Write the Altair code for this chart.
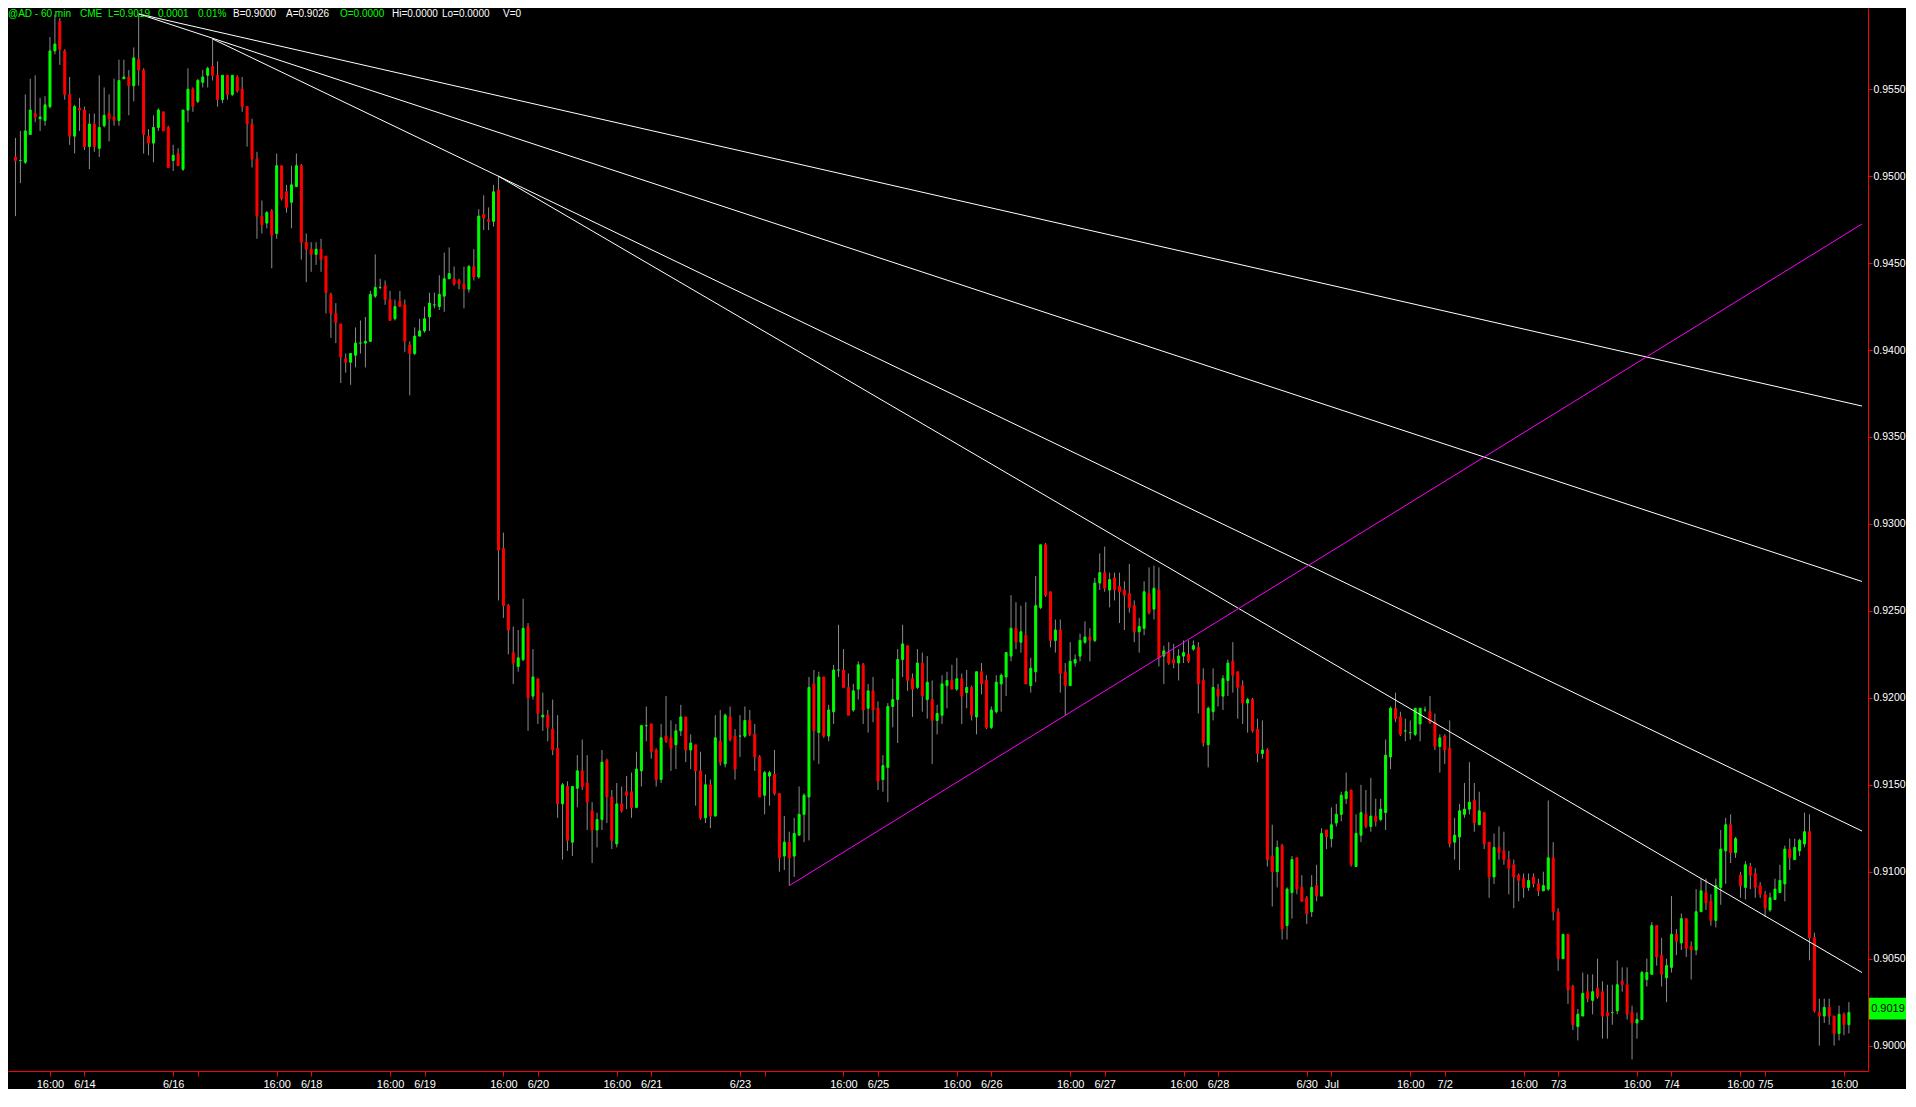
import altair as alt
import pandas as pd

W = 1860
H = 1063

bar_index = list(range(373))

open_price = [
 0.9511, 0.9509, 0.9508, 0.9524, 0.9536, 0.9533, 0.9532, 0.9540, 0.9572, 0.9589,
 0.9572, 0.9547, 0.9523, 0.9539, 0.9538, 0.9517, 0.9530, 0.9516, 0.9529, 0.9536,
 0.9534, 0.9532, 0.9556, 0.9557, 0.9552, 0.9567, 0.9561, 0.9523, 0.9519, 0.9528,
 0.9537, 0.9528, 0.9509, 0.9513, 0.9504, 0.9538, 0.9550, 0.9543, 0.9554, 0.9558,
 0.9563, 0.9558, 0.9544, 0.9558, 0.9547, 0.9557, 0.9550, 0.9540, 0.9530, 0.9510,
 0.9477, 0.9473, 0.9480, 0.9467, 0.9506, 0.9491, 0.9485, 0.9494, 0.9506, 0.9462,
 0.9458, 0.9455, 0.9458, 0.9454, 0.9432, 0.9421, 0.9415, 0.9395, 0.9393, 0.9397,
 0.9404, 0.9404, 0.9405, 0.9431, 0.9436, 0.9437, 0.9429, 0.9418, 0.9428, 0.9426,
 0.9403, 0.9398, 0.9408, 0.9411, 0.9419, 0.9426, 0.9425, 0.9431, 0.9441, 0.9441,
 0.9440, 0.9438, 0.9435, 0.9448, 0.9442, 0.9478, 0.9475, 0.9474, 0.9492, 0.9286,
 0.9253, 0.9226, 0.9218, 0.9222, 0.9241, 0.9201, 0.9211, 0.9189, 0.9190, 0.9182,
 0.9171, 0.9139, 0.9149, 0.9117, 0.9148, 0.9158, 0.9151, 0.9135, 0.9124, 0.9130,
 0.9164, 0.9143, 0.9116, 0.9139, 0.9146, 0.9146, 0.9137, 0.9158, 0.9184, 0.9185,
 0.9170, 0.9153, 0.9178, 0.9177, 0.9173, 0.9181, 0.9189, 0.9170, 0.9173, 0.9158,
 0.9131, 0.9150, 0.9132, 0.9175, 0.9162, 0.9189, 0.9178, 0.9178, 0.9178, 0.9187,
 0.9179, 0.9166, 0.9144, 0.9155, 0.9156, 0.9145, 0.9109, 0.9117, 0.9109, 0.9121,
 0.9133, 0.9143, 0.9208, 0.9180, 0.9212, 0.9178, 0.9192, 0.9216, 0.9216, 0.9206,
 0.9193, 0.9205, 0.9219, 0.9194, 0.9204, 0.9194, 0.9153, 0.9160, 0.9195, 0.9199,
 0.9222, 0.9230, 0.9211, 0.9206, 0.9220, 0.9199, 0.9199, 0.9187, 0.9190, 0.9207,
 0.9210, 0.9205, 0.9211, 0.9203, 0.9206, 0.9189, 0.9215, 0.9210, 0.9183, 0.9192,
 0.9208, 0.9212, 0.9224, 0.9240, 0.9232, 0.9236, 0.9207, 0.9215, 0.9252, 0.9288,
 0.9261, 0.9233, 0.9239, 0.9215, 0.9207, 0.9220, 0.9224, 0.9232, 0.9235, 0.9233,
 0.9266, 0.9272, 0.9262, 0.9269, 0.9264, 0.9262, 0.9260, 0.9253, 0.9238, 0.9240,
 0.9260, 0.9251, 0.9262, 0.9224, 0.9226, 0.9222, 0.9220, 0.9224, 0.9225, 0.9228,
 0.9229, 0.9210, 0.9173, 0.9192, 0.9205, 0.9201, 0.9210, 0.9221, 0.9215, 0.9207,
 0.9197, 0.9199, 0.9182, 0.9168, 0.9170, 0.9109, 0.9100, 0.9115, 0.9069, 0.9088,
 0.9108, 0.9091, 0.9085, 0.9077, 0.9092, 0.9086, 0.9124, 0.9119, 0.9128, 0.9133,
 0.9142, 0.9147, 0.9103, 0.9121, 0.9133, 0.9126, 0.9132, 0.9130, 0.9134, 0.9166,
 0.9194, 0.9189, 0.9181, 0.9180, 0.9179, 0.9185, 0.9193, 0.9192, 0.9186, 0.9172,
 0.9178, 0.9171, 0.9117, 0.9120, 0.9133, 0.9136, 0.9141, 0.9127, 0.9134, 0.9117,
 0.9097, 0.9114, 0.9112, 0.9107, 0.9104, 0.9098, 0.9096, 0.9091, 0.9097, 0.9093,
 0.9089, 0.9090, 0.9108, 0.9077, 0.9050, 0.9064, 0.9034, 0.9011, 0.9017, 0.9031,
 0.9026, 0.9033, 0.9031, 0.9019, 0.9019, 0.9020, 0.9037, 0.9035, 0.9019, 0.9013,
 0.9015, 0.9038, 0.9041, 0.9069, 0.9052, 0.9039, 0.9045, 0.9064, 0.9059, 0.9073,
 0.9057, 0.9055, 0.9077, 0.9088, 0.9083, 0.9072, 0.9091, 0.9112, 0.9127, 0.9111,
 0.9098, 0.9091, 0.9103, 0.9099, 0.9092, 0.9087, 0.9078, 0.9084, 0.9088, 0.9093,
 0.9113, 0.9107, 0.9112, 0.9116, 0.9123, 0.9062, 0.9019, 0.9017, 0.9022, 0.9017,
 0.9007, 0.9018, 0.9012]

high_price = [
 0.9522, 0.9526, 0.9547, 0.9556, 0.9558, 0.9545, 0.9546, 0.9580, 0.9593, 0.9591,
 0.9573, 0.9557, 0.9541, 0.9545, 0.9540, 0.9536, 0.9536, 0.9558, 0.9551, 0.9547,
 0.9556, 0.9567, 0.9567, 0.9561, 0.9574, 0.9593, 0.9562, 0.9527, 0.9535, 0.9539,
 0.9537, 0.9529, 0.9518, 0.9516, 0.9538, 0.9562, 0.9551, 0.9556, 0.9561, 0.9563,
 0.9579, 0.9566, 0.9558, 0.9558, 0.9558, 0.9558, 0.9557, 0.9540, 0.9533, 0.9514,
 0.9486, 0.9480, 0.9481, 0.9513, 0.9506, 0.9495, 0.9506, 0.9513, 0.9507, 0.9467,
 0.9462, 0.9462, 0.9464, 0.9454, 0.9433, 0.9427, 0.9415, 0.9398, 0.9398, 0.9413,
 0.9417, 0.9419, 0.9434, 0.9455, 0.9441, 0.9440, 0.9434, 0.9429, 0.9434, 0.9429,
 0.9405, 0.9413, 0.9418, 0.9425, 0.9433, 0.9433, 0.9443, 0.9456, 0.9459, 0.9448,
 0.9441, 0.9448, 0.9449, 0.9458, 0.9481, 0.9489, 0.9482, 0.9495, 0.9500, 0.9295,
 0.9254, 0.9241, 0.9239, 0.9257, 0.9243, 0.9228, 0.9211, 0.9203, 0.9193, 0.9199,
 0.9190, 0.9151, 0.9152, 0.9149, 0.9167, 0.9176, 0.9167, 0.9140, 0.9134, 0.9170,
 0.9165, 0.9147, 0.9151, 0.9149, 0.9155, 0.9157, 0.9169, 0.9184, 0.9195, 0.9185,
 0.9171, 0.9185, 0.9201, 0.9187, 0.9185, 0.9196, 0.9189, 0.9179, 0.9173, 0.9169,
 0.9156, 0.9153, 0.9190, 0.9193, 0.9191, 0.9195, 0.9182, 0.9190, 0.9195, 0.9193,
 0.9185, 0.9167, 0.9158, 0.9158, 0.9170, 0.9145, 0.9132, 0.9123, 0.9131, 0.9149,
 0.9145, 0.9212, 0.9216, 0.9215, 0.9212, 0.9196, 0.9219, 0.9242, 0.9228, 0.9214,
 0.9208, 0.9221, 0.9220, 0.9208, 0.9212, 0.9198, 0.9167, 0.9197, 0.9211, 0.9228,
 0.9242, 0.9230, 0.9214, 0.9228, 0.9226, 0.9224, 0.9210, 0.9196, 0.9213, 0.9215,
 0.9219, 0.9223, 0.9214, 0.9216, 0.9207, 0.9215, 0.9220, 0.9213, 0.9195, 0.9213,
 0.9214, 0.9226, 0.9259, 0.9255, 0.9253, 0.9255, 0.9223, 0.9270, 0.9288, 0.9289,
 0.9261, 0.9245, 0.9245, 0.9220, 0.9232, 0.9225, 0.9237, 0.9244, 0.9240, 0.9269,
 0.9283, 0.9287, 0.9272, 0.9272, 0.9272, 0.9267, 0.9277, 0.9256, 0.9246, 0.9267,
 0.9275, 0.9276, 0.9275, 0.9230, 0.9232, 0.9231, 0.9228, 0.9233, 0.9233, 0.9233,
 0.9232, 0.9217, 0.9195, 0.9217, 0.9208, 0.9213, 0.9222, 0.9232, 0.9215, 0.9210,
 0.9200, 0.9200, 0.9188, 0.9187, 0.9171, 0.9127, 0.9118, 0.9116, 0.9091, 0.9109,
 0.9108, 0.9098, 0.9086, 0.9098, 0.9104, 0.9125, 0.9124, 0.9137, 0.9139, 0.9146,
 0.9157, 0.9147, 0.9133, 0.9150, 0.9147, 0.9154, 0.9142, 0.9142, 0.9176, 0.9195,
 0.9203, 0.9192, 0.9188, 0.9187, 0.9194, 0.9194, 0.9195, 0.9201, 0.9191, 0.9179,
 0.9179, 0.9187, 0.9131, 0.9139, 0.9151, 0.9163, 0.9151, 0.9146, 0.9134, 0.9117,
 0.9122, 0.9126, 0.9123, 0.9112, 0.9107, 0.9099, 0.9099, 0.9099, 0.9099, 0.9096,
 0.9100, 0.9141, 0.9117, 0.9079, 0.9064, 0.9064, 0.9035, 0.9021, 0.9042, 0.9041,
 0.9041, 0.9050, 0.9037, 0.9035, 0.9035, 0.9049, 0.9045, 0.9045, 0.9023, 0.9019,
 0.9043, 0.9050, 0.9071, 0.9069, 0.9062, 0.9050, 0.9086, 0.9067, 0.9076, 0.9073,
 0.9060, 0.9090, 0.9096, 0.9096, 0.9087, 0.9096, 0.9124, 0.9131, 0.9133, 0.9120,
 0.9100, 0.9106, 0.9105, 0.9102, 0.9094, 0.9089, 0.9088, 0.9096, 0.9104, 0.9115,
 0.9119, 0.9119, 0.9119, 0.9134, 0.9133, 0.9065, 0.9027, 0.9027, 0.9027, 0.9017,
 0.9023, 0.9019, 0.9025]

low_price = [
 0.9477, 0.9496, 0.9507, 0.9524, 0.9531, 0.9526, 0.9529, 0.9539, 0.9570, 0.9564,
 0.9544, 0.9518, 0.9513, 0.9526, 0.9515, 0.9504, 0.9514, 0.9511, 0.9528, 0.9520,
 0.9529, 0.9529, 0.9556, 0.9535, 0.9543, 0.9552, 0.9513, 0.9512, 0.9508, 0.9526,
 0.9526, 0.9505, 0.9503, 0.9506, 0.9503, 0.9531, 0.9537, 0.9542, 0.9551, 0.9551,
 0.9555, 0.9540, 0.9542, 0.9544, 0.9546, 0.9548, 0.9537, 0.9517, 0.9505, 0.9464,
 0.9467, 0.9470, 0.9447, 0.9464, 0.9486, 0.9479, 0.9470, 0.9494, 0.9452, 0.9439,
 0.9445, 0.9449, 0.9445, 0.9421, 0.9407, 0.9404, 0.9381, 0.9387, 0.9380, 0.9390,
 0.9398, 0.9390, 0.9405, 0.9430, 0.9435, 0.9426, 0.9417, 0.9417, 0.9425, 0.9399,
 0.9374, 0.9397, 0.9408, 0.9410, 0.9411, 0.9424, 0.9423, 0.9422, 0.9441, 0.9437,
 0.9435, 0.9424, 0.9433, 0.9440, 0.9441, 0.9469, 0.9469, 0.9471, 0.9256, 0.9246,
 0.9225, 0.9208, 0.9215, 0.9221, 0.9181, 0.9199, 0.9185, 0.9181, 0.9175, 0.9167,
 0.9131, 0.9107, 0.9112, 0.9109, 0.9137, 0.9147, 0.9124, 0.9105, 0.9114, 0.9124,
 0.9128, 0.9113, 0.9114, 0.9134, 0.9136, 0.9131, 0.9137, 0.9149, 0.9175, 0.9165,
 0.9149, 0.9151, 0.9174, 0.9158, 0.9159, 0.9178, 0.9163, 0.9159, 0.9138, 0.9130,
 0.9128, 0.9125, 0.9132, 0.9161, 0.9160, 0.9175, 0.9153, 0.9166, 0.9177, 0.9178,
 0.9158, 0.9143, 0.9133, 0.9138, 0.9144, 0.9100, 0.9101, 0.9092, 0.9097, 0.9121,
 0.9117, 0.9118, 0.9164, 0.9162, 0.9177, 0.9175, 0.9185, 0.9212, 0.9206, 0.9190,
 0.9192, 0.9199, 0.9185, 0.9180, 0.9186, 0.9147, 0.9146, 0.9140, 0.9183, 0.9174,
 0.9212, 0.9204, 0.9189, 0.9205, 0.9192, 0.9188, 0.9162, 0.9179, 0.9185, 0.9194,
 0.9205, 0.9204, 0.9185, 0.9194, 0.9187, 0.9179, 0.9202, 0.9182, 0.9182, 0.9191,
 0.9192, 0.9201, 0.9221, 0.9228, 0.9226, 0.9208, 0.9203, 0.9209, 0.9251, 0.9258,
 0.9229, 0.9226, 0.9203, 0.9190, 0.9207, 0.9218, 0.9221, 0.9231, 0.9221, 0.9232,
 0.9262, 0.9261, 0.9252, 0.9256, 0.9243, 0.9239, 0.9249, 0.9232, 0.9226, 0.9236,
 0.9248, 0.9245, 0.9218, 0.9208, 0.9219, 0.9217, 0.9210, 0.9220, 0.9220, 0.9227,
 0.9191, 0.9172, 0.9160, 0.9187, 0.9195, 0.9193, 0.9201, 0.9203, 0.9188, 0.9185,
 0.9180, 0.9180, 0.9163, 0.9165, 0.9103, 0.9080, 0.9091, 0.9061, 0.9061, 0.9073,
 0.9087, 0.9083, 0.9070, 0.9074, 0.9083, 0.9086, 0.9113, 0.9114, 0.9126, 0.9129,
 0.9139, 0.9103, 0.9103, 0.9117, 0.9125, 0.9123, 0.9126, 0.9129, 0.9124, 0.9159,
 0.9186, 0.9178, 0.9175, 0.9176, 0.9178, 0.9175, 0.9192, 0.9185, 0.9170, 0.9157,
 0.9162, 0.9114, 0.9107, 0.9101, 0.9131, 0.9133, 0.9123, 0.9127, 0.9113, 0.9085,
 0.9093, 0.9107, 0.9104, 0.9087, 0.9079, 0.9083, 0.9085, 0.9089, 0.9091, 0.9086,
 0.9089, 0.9089, 0.9072, 0.9043, 0.9050, 0.9024, 0.9009, 0.9003, 0.9017, 0.9025,
 0.9018, 0.9027, 0.9004, 0.9004, 0.9012, 0.9018, 0.9031, 0.9015, 0.8992, 0.9004,
 0.9015, 0.9034, 0.9041, 0.9046, 0.9034, 0.9025, 0.9042, 0.9052, 0.9055, 0.9051,
 0.9038, 0.9052, 0.9077, 0.9078, 0.9069, 0.9068, 0.9081, 0.9093, 0.9105, 0.9108,
 0.9085, 0.9084, 0.9090, 0.9085, 0.9085, 0.9074, 0.9077, 0.9084, 0.9088, 0.9083,
 0.9101, 0.9107, 0.9109, 0.9114, 0.9049, 0.9019, 0.9000, 0.9013, 0.9012, 0.9000,
 0.9003, 0.9006, 0.9007]

close_price = [
 0.9509, 0.9509, 0.9526, 0.9538, 0.9534, 0.9534, 0.9541, 0.9572, 0.9576, 0.9573,
 0.9547, 0.9523, 0.9540, 0.9538, 0.9517, 0.9530, 0.9517, 0.9528, 0.9535, 0.9533,
 0.9532, 0.9555, 0.9557, 0.9552, 0.9568, 0.9561, 0.9524, 0.9519, 0.9528, 0.9538,
 0.9526, 0.9505, 0.9512, 0.9506, 0.9538, 0.9550, 0.9540, 0.9555, 0.9557, 0.9562,
 0.9558, 0.9544, 0.9558, 0.9547, 0.9558, 0.9549, 0.9540, 0.9530, 0.9510, 0.9477,
 0.9472, 0.9479, 0.9466, 0.9506, 0.9487, 0.9482, 0.9495, 0.9506, 0.9462, 0.9458,
 0.9455, 0.9458, 0.9452, 0.9433, 0.9421, 0.9416, 0.9396, 0.9393, 0.9398, 0.9404,
 0.9404, 0.9405, 0.9432, 0.9436, 0.9436, 0.9429, 0.9417, 0.9425, 0.9425, 0.9405,
 0.9398, 0.9408, 0.9411, 0.9418, 0.9427, 0.9426, 0.9432, 0.9441, 0.9444, 0.9438,
 0.9438, 0.9435, 0.9448, 0.9442, 0.9477, 0.9476, 0.9474, 0.9491, 0.9285, 0.9253,
 0.9239, 0.9220, 0.9223, 0.9240, 0.9200, 0.9212, 0.9191, 0.9190, 0.9183, 0.9170,
 0.9139, 0.9150, 0.9118, 0.9149, 0.9158, 0.9149, 0.9140, 0.9124, 0.9130, 0.9163,
 0.9143, 0.9118, 0.9139, 0.9135, 0.9144, 0.9137, 0.9159, 0.9184, 0.9184, 0.9169,
 0.9153, 0.9177, 0.9175, 0.9171, 0.9181, 0.9189, 0.9170, 0.9174, 0.9158, 0.9131,
 0.9150, 0.9132, 0.9177, 0.9163, 0.9190, 0.9176, 0.9159, 0.9178, 0.9187, 0.9179,
 0.9166, 0.9143, 0.9157, 0.9157, 0.9145, 0.9108, 0.9117, 0.9108, 0.9122, 0.9133,
 0.9144, 0.9206, 0.9181, 0.9212, 0.9178, 0.9193, 0.9216, 0.9216, 0.9206, 0.9190,
 0.9204, 0.9219, 0.9193, 0.9204, 0.9193, 0.9152, 0.9161, 0.9195, 0.9199, 0.9222,
 0.9231, 0.9210, 0.9205, 0.9220, 0.9201, 0.9209, 0.9187, 0.9191, 0.9208, 0.9210,
 0.9205, 0.9211, 0.9201, 0.9206, 0.9190, 0.9215, 0.9208, 0.9183, 0.9193, 0.9209,
 0.9213, 0.9226, 0.9240, 0.9232, 0.9238, 0.9208, 0.9217, 0.9253, 0.9288, 0.9259,
 0.9233, 0.9239, 0.9214, 0.9207, 0.9221, 0.9222, 0.9233, 0.9235, 0.9233, 0.9266,
 0.9272, 0.9263, 0.9268, 0.9262, 0.9261, 0.9259, 0.9252, 0.9238, 0.9241, 0.9261,
 0.9249, 0.9263, 0.9223, 0.9227, 0.9220, 0.9220, 0.9224, 0.9226, 0.9221, 0.9230,
 0.9208, 0.9174, 0.9194, 0.9206, 0.9201, 0.9211, 0.9220, 0.9213, 0.9206, 0.9197,
 0.9199, 0.9181, 0.9168, 0.9170, 0.9107, 0.9100, 0.9114, 0.9067, 0.9090, 0.9107,
 0.9090, 0.9083, 0.9076, 0.9091, 0.9086, 0.9122, 0.9120, 0.9127, 0.9133, 0.9144,
 0.9146, 0.9104, 0.9122, 0.9134, 0.9126, 0.9132, 0.9129, 0.9136, 0.9167, 0.9194,
 0.9188, 0.9179, 0.9181, 0.9180, 0.9194, 0.9194, 0.9193, 0.9186, 0.9172, 0.9177,
 0.9170, 0.9116, 0.9121, 0.9135, 0.9136, 0.9140, 0.9128, 0.9135, 0.9116, 0.9097,
 0.9114, 0.9111, 0.9107, 0.9102, 0.9097, 0.9095, 0.9091, 0.9095, 0.9093, 0.9089,
 0.9092, 0.9108, 0.9077, 0.9050, 0.9064, 0.9032, 0.9012, 0.9018, 0.9030, 0.9027,
 0.9031, 0.9028, 0.9017, 0.9017, 0.9019, 0.9035, 0.9035, 0.9018, 0.9013, 0.9015,
 0.9042, 0.9042, 0.9069, 0.9051, 0.9041, 0.9046, 0.9064, 0.9060, 0.9073, 0.9056,
 0.9055, 0.9077, 0.9089, 0.9082, 0.9072, 0.9092, 0.9113, 0.9127, 0.9111, 0.9119,
 0.9092, 0.9104, 0.9098, 0.9091, 0.9087, 0.9079, 0.9085, 0.9090, 0.9095, 0.9113,
 0.9108, 0.9114, 0.9118, 0.9123, 0.9062, 0.9020, 0.9017, 0.9022, 0.9017, 0.9007,
 0.9018, 0.9012, 0.9019]

# time-axis ticks (bar index) and their labels
tick_bars = [7, 14, 32, 37, 53, 60, 76, 83, 99, 106, 122, 129, 147, 152, 168, 175,
             191, 198, 214, 221, 237, 244, 262, 267, 283, 290, 306, 313, 329, 336,
             350, 355, 371]
tick_labels = ["16:00", "6/14", "6/16", "", "16:00", "6/18", "16:00", "6/19",
               "16:00", "6/20", "16:00", "6/21", "6/23", "", "16:00", "6/25",
               "16:00", "6/26", "16:00", "6/27", "16:00", "6/28", "6/30", "Jul",
               "16:00", "7/2", "16:00", "7/3", "16:00", "7/4", "16:00", "7/5", "16:00"]
price_ticks = [0.9000, 0.9050, 0.9100, 0.9150, 0.9200, 0.9250, 0.9300,
               0.9350, 0.9400, 0.9450, 0.9500, 0.9550]

# trend lines: two points each (bar index, price)
tl_names = ["A", "A", "B", "B", "C", "C", "D", "D"]
tl_bars = [25, 374.66, 25, 374.66, 40, 374.66, 98, 374.66]
tl_prices = [0.95933, 0.93678, 0.95933, 0.92669, 0.95789, 0.91234, 0.9500, 0.90420]
mag_bars = [157, 374.66]
mag_prices = [0.90920, 0.94725]

last_price = 0.9019
last_label = "0.9019"

header_texts = ["@AD - 60 min", "CME", "L=0.9019", "0.0001", "0.01%", "B=0.9000",
                "A=0.9026", "O=0.0000", "Hi=0.0000", "Lo=0.0000", "V=0"]
header_colors = ["#00FF00", "#00FF00", "#00FF00", "#00FF00", "#00FF00", "#FFFFFF",
                 "#FFFFFF", "#00FF00", "#FFFFFF", "#FFFFFF", "#FFFFFF"]
header_x = [0, 72, 100, 150, 190, 225, 278, 332, 384, 434, 495]

df = pd.DataFrame({"i": bar_index, "open": open_price, "high": high_price,
                   "low": low_price, "close": close_price})
df["dir"] = ["up" if c >= o else "down" for o, c in zip(open_price, close_price)]

xscale = alt.Scale(domain=[-0.5, 374.86], nice=False, zero=False)
yscale = alt.Scale(domain=[0.89854, 0.95967], nice=False, zero=False)
dir_scale = alt.Scale(domain=["up", "down"], range=["#00FF00", "#FF0000"])

label_expr = ("[" + ",".join("'" + s + "'" for s in tick_labels) + "][indexof(["
              + ",".join(str(v) for v in tick_bars) + "], datum.value)]")

FONT = "Liberation Sans"

x_axis = alt.Axis(values=tick_bars, labelExpr=label_expr, orient="bottom", grid=False,
                  domainColor="#FF0000", tickColor="#FF0000", tickSize=5,
                  labelColor="#FFFFFF", labelFont=FONT, labelFontSize=11,
                  labelPadding=2, labelOverlap=False, labelFlush=False, title="")
y_axis = alt.Axis(values=price_ticks, format=".4f", orient="right", grid=False,
                  domainColor="#FF0000", tickColor="#FF0000", tickSize=4,
                  labelColor="#FFFFFF", labelFont=FONT, labelFontSize=10.5,
                  labelPadding=1, labelOverlap=False, labelFlush=False, title="")


def X(field):
    return alt.X(field, type="quantitative", scale=xscale, axis=x_axis)


def Y(field):
    return alt.Y(field, type="quantitative", scale=yscale, axis=y_axis)


base = alt.Chart(df)
wicks = base.mark_rule(color="#8C8C8C", strokeWidth=1).encode(
    x=X("i"), y=Y("low"), y2="high",
)
bodies = base.mark_bar(size=2, strokeWidth=1).encode(
    x=X("i"), y=Y("open"), y2="close",
    color=alt.Color("dir:N", scale=dir_scale, legend=None),
    stroke=alt.Stroke("dir:N", scale=dir_scale, legend=None),
)

tl_df = pd.DataFrame({"line": tl_names, "i": tl_bars, "price": tl_prices})
white_lines = alt.Chart(tl_df).mark_line(color="#FFFFFF", strokeWidth=1).encode(
    x=X("i"), y=Y("price"), detail="line:N",
)
mag_df = pd.DataFrame({"i": mag_bars, "price": mag_prices})
mag_line = alt.Chart(mag_df).mark_line(color="#FF00FF", strokeWidth=1).encode(
    x=X("i"), y=Y("price"),
)

box_df = pd.DataFrame({"lo": [last_price - 0.0004], "hi": [last_price + 0.00085],
                       "mid": [last_price + 0.0002], "t": [last_label]})
box = alt.Chart(box_df).mark_rect(color="#00FF00").encode(
    x=alt.value(W + 1), x2=alt.value(W + 38),
    y=Y("lo"), y2="hi",
)
box_text = alt.Chart(box_df).mark_text(color="#000000", font=FONT, fontSize=11,
                                       align="center", baseline="middle").encode(
    x=alt.value(W + 20), y=Y("mid"), text="t:N",
)

layers = [wicks, bodies, white_lines, mag_line, box, box_text]
for txt, col, xp in zip(header_texts, header_colors, header_x):
    layers.append(
        alt.Chart(pd.DataFrame({"t": [txt]})).mark_text(
            color=col, font=FONT, fontSize=10, align="left", baseline="top"
        ).encode(x=alt.value(xp), y=alt.value(1), text="t:N")
    )

chart = alt.layer(*layers).properties(
    width=W, height=H,
    padding={"left": 0, "top": 0, "right": 0, "bottom": 0},
).configure(background="#000000").configure_view(strokeWidth=0, fill="#000000")

chart.save("out.html", embed_options={"renderer": "svg", "actions": False})
